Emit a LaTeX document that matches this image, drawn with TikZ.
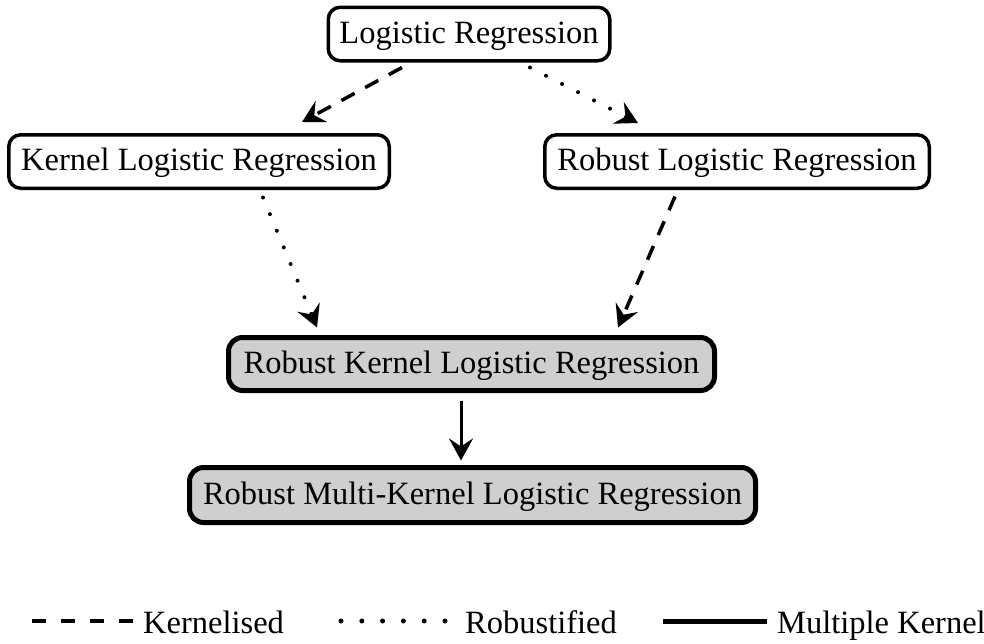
\documentclass[tikz,border=0pt]{standalone}
\usepackage{fontspec}
\setmainfont{Liberation Serif}
\usetikzlibrary{arrows.meta}
\begin{document}
\begin{tikzpicture}[x=1pt,y=-1pt,
 box/.style={draw, line width=3.5pt, rounded corners=12pt, font=\fontsize{32.5}{36}\selectfont, text height=20.2pt, text depth=1.6pt, inner sep=0pt, minimum height=53.5pt},
 gbox/.style={box, fill=black!19, line width=5pt, rounded corners=14pt},
 tip/.style={-{Stealth[length=22pt,width=24pt,inset=8pt]}},
 kern/.style={tip, line width=3.5pt, dash pattern=on 15pt off 12pt},
 robu/.style={tip, line width=4pt, line cap=round, dash pattern=on 0pt off 18pt},
 mult/.style={tip, line width=3pt},
 legkern/.style={line width=4.5pt, dash pattern=on 14pt off 15pt},
 legrobu/.style={line width=5pt, line cap=round, dash pattern=on 0pt off 20.8pt},
 legmult/.style={line width=5pt},
 legtext/.style={font=\fontsize{32.5}{36}\selectfont, inner sep=0pt, anchor=base west}]
\useasboundingbox (0,0) rectangle (984,643);

\node[box, minimum width=281.5pt] (lr) at (469,34) {Logistic Regression};
\node[box, minimum width=380.5pt] (klr) at (199,161.5) {Kernel Logistic Regression};
\node[box, minimum width=384.5pt] (rlr) at (737,161.5) {Robust Logistic Regression};
\node[gbox, minimum width=486pt, minimum height=53pt] (rklr) at (471.5,364) {Robust Kernel Logistic Regression};
\node[gbox, minimum width=566pt, minimum height=55pt] (rmklr) at (472.5,495) {Robust Multi-Kernel Logistic Regression};

\draw[kern] ([shift={(-67,5)}]lr.south) -- ([shift={(103,-11)}]klr.north);
\draw[robu] ([shift={(61,5)}]lr.south) -- ([shift={(-99,-10)}]rlr.north);
\draw[robu] ([shift={(64,7.5)}]klr.south) -- ([shift={(-154.5,-7.5)}]rklr.north);
\draw[kern] ([shift={(-62,6.5)}]rlr.south) -- ([shift={(146.5,-7.5)}]rklr.north);
\draw[mult] ([shift={(-10.5,7.5)}]rklr.south) -- ([shift={(-11.5,-4.5)}]rmklr.north);

\node[legtext] (lk) at (143,633) {Kernelised};
\node[legtext] (lr2) at (465,633) {Robustified};
\node[legtext] (lm) at (777,633) {Multiple Kernel};
\coordinate (lka) at (32,621);
\coordinate (lkb) at (135,621);
\coordinate (lra) at (341,621);
\coordinate (lrb) at (446,621);
\coordinate (lma) at (663,621);
\coordinate (lmb) at (767,621);
\draw[legkern] (lka) -- (lkb);
\draw[legrobu] (lra) -- (lrb);
\draw[legmult] (lma) -- (lmb);
\end{tikzpicture}
\end{document}
